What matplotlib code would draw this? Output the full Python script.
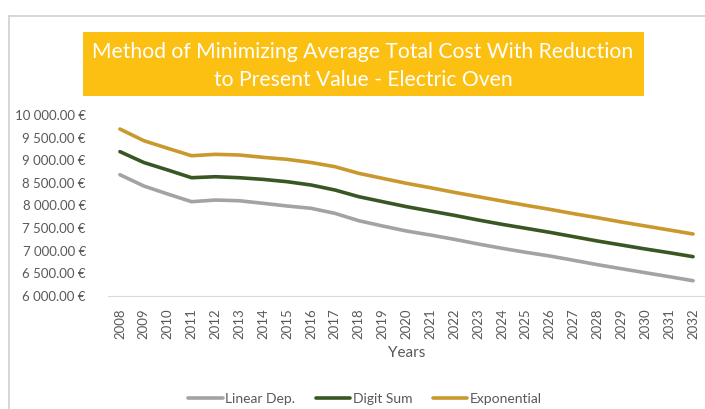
import matplotlib
matplotlib.use("Agg")
import matplotlib.pyplot as plt
from matplotlib.patches import Rectangle
from matplotlib.lines import Line2D
from matplotlib.ticker import FuncFormatter

# data
years = [str(y) for y in range(2008, 2033)]
linear_dep = [8680, 8431, 8254, 8084, 8121, 8105, 8048, 7989, 7938, 7827, 7664, 7547, 7436,
              7348, 7253, 7149, 7054, 6965, 6884, 6789, 6692, 6603, 6515, 6427, 6338]
digit_sum = [9190, 8950, 8785, 8614, 8636, 8614, 8577, 8526, 8453, 8343, 8195, 8084, 7974,
             7878, 7783, 7680, 7584, 7496, 7407, 7311, 7215, 7127, 7039, 6957, 6869]
exponential = [9690, 9432, 9264, 9100, 9131, 9116, 9064, 9020, 8950, 8858, 8711, 8600, 8490,
               8393, 8291, 8195, 8099, 8004, 7915, 7819, 7730, 7635, 7547, 7459, 7370]
series_names = ['Linear Dep.', 'Digit Sum', 'Exponential']
colors = ['#A3A3A3', '#385723', '#C9992E']

plt.rcParams['font.family'] = ['Lato', 'DejaVu Sans']
W, H = 705, 409
fig = plt.figure(figsize=(W / 100, H / 100), dpi=100)

# chart border (partly cropped)
fig.add_artist(Line2D([9 / W, 1], [1 - 15.5 / H, 1 - 15.5 / H], color='#D0D0D0', lw=1.2))
fig.add_artist(Line2D([9 / W, 9 / W], [0, 1 - 15.5 / H], color='#D0D0D0', lw=1.2))

# title box
fig.add_artist(Rectangle((83 / W, 1 - 96 / H), 561 / W, 64 / H, color='#FCC012', lw=0))
fig.text(363 / W, 1 - 52 / H, 'Method of Minimizing Average Total Cost With Reduction',
         ha='center', va='center', color='white', fontsize=15.2)
fig.text(363 / W, 1 - 80 / H, 'to Present Value - Electric Oven',
         ha='center', va='center', color='white', fontsize=15.2)

ax = fig.add_axes([108 / W, 1 - 296 / H, 597 / W, 181 / H])
x = list(range(len(years)))
for vals, name, c in zip([linear_dep, digit_sum, exponential], series_names, colors):
    ax.plot(x, vals, color=c, lw=2.6, label=name, solid_capstyle='round', solid_joinstyle='round')

ax.set_xlim(-0.5, len(years) - 0.5)
ax.set_ylim(6000, 10000)
ax.set_yticks(range(6000, 10001, 500))
ax.yaxis.set_major_formatter(FuncFormatter(lambda v, p: f'{v:,.2f} €'.replace(',', ' ')))
ax.set_xticks(x)
ax.set_xticklabels(years, rotation=90)
ax.tick_params(axis='both', length=0, colors='#595959', labelsize=9.5)
ax.tick_params(axis='y', pad=16)
ax.tick_params(axis='x', pad=9)
for s in ['top', 'right', 'left']:
    ax.spines[s].set_visible(False)
ax.spines['bottom'].set_color('#D9D9D9')
ax.set_xlabel('Years', color='#595959', fontsize=11, labelpad=6)
ax.xaxis.set_label_coords((407 - 108) / 597, -(346 - 296) / 181)

fig.legend(loc='center', bbox_to_anchor=(365 / W, 1 - 399 / H), ncol=3, frameon=False,
           fontsize=10, labelcolor='#595959', handlelength=2.5, handletextpad=0.2,
           columnspacing=1.45)

fig.savefig('out.png', dpi=100)
